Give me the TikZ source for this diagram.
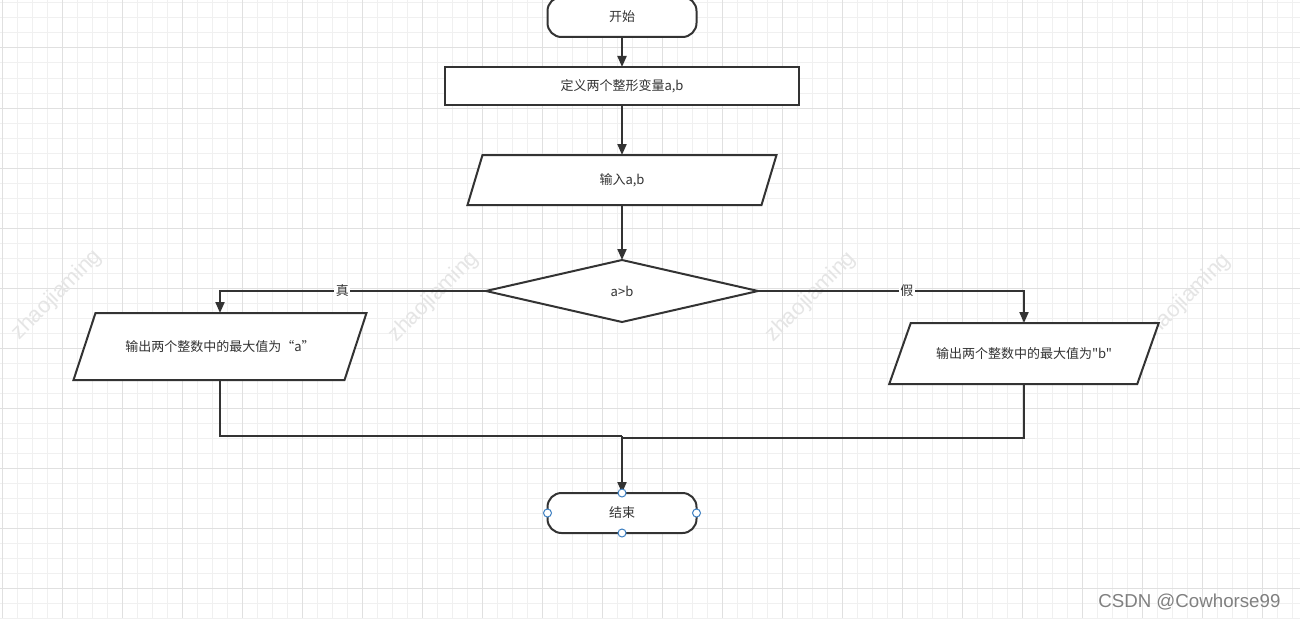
\documentclass[tikz,border=0pt]{standalone}
\usepackage{fontspec}
\setmainfont{Liberation Sans}
\newfontfamily\cjk{Noto Sans CJK SC}
\usetikzlibrary{shapes.geometric,arrows.meta}
\definecolor{ln}{HTML}{333333}
\definecolor{gmin}{HTML}{F0F0F0}
\definecolor{gmaj}{HTML}{E0E0E0}
\definecolor{handle}{HTML}{3D7FC1}
\pgfdeclarelayer{paper}
\pgfdeclarelayer{shapes}
\pgfsetlayers{paper,shapes,main}
\begin{document}
\begin{tikzpicture}[x=1pt,y=-1pt,
  every node/.style={font=\cjk\fontsize{13}{15}\selectfont, text=ln},
  base/.style={draw=ln, line width=2pt, fill=white, inner sep=0pt, outer sep=0pt},
  term/.style={base, rectangle, rounded corners=14pt, minimum width=149pt, minimum height=40pt},
  proc/.style={base, rectangle, minimum width=354pt, minimum height=38pt},
  iotext/.style={rectangle, inner sep=0pt, outer sep=0pt},
  iobox/.style={draw=ln, line width=2pt, fill=white, line join=miter},
  dec/.style={base, diamond, aspect=4.4, minimum width=272pt, minimum height=62pt},
  arr/.style={draw=ln, line width=2pt, -{Triangle[length=11pt,width=9pt]}},
  conn/.style={draw=ln, line width=2pt},
  lbl/.style={fill=white, inner sep=1.5pt},
  wm/.style={font=\fontsize{22}{22}\selectfont, text=black!10, rotate=45},
  hdl/.style={draw=handle, fill=white, line width=1pt}
]
\useasboundingbox (0,0) rectangle (1300,618);
\begin{pgfonlayer}{paper}
\fill[white] (0,0) rectangle (1300,618);
\foreach \x in {2,17,...,1300} \draw[gmin, line width=1pt] (\x,0) -- (\x,618);
\foreach \y in {3,18,...,618} \draw[gmin, line width=1pt] (0,\y) -- (1300,\y);
\foreach \x in {2,62,...,1300} \draw[gmaj, line width=1pt] (\x,0) -- (\x,618);
\foreach \y in {48,108,...,618} \draw[gmaj, line width=1pt] (0,\y) -- (1300,\y);
\node[wm] (wm1) at (57,295) {zhaojiaming};
\node[wm] (wm2) at (434,297) {zhaojiaming};
\node[wm] (wm3) at (811,297) {zhaojiaming};
\node[wm] (wm4) at (1186,299) {zhaojiaming};
\end{pgfonlayer}
% nodes
\node[term] (start) at (622,17) {开始};
\node[proc] (def) at (622,86) {定义两个整形变量a,b};
\node[iotext, minimum width=294pt, minimum height=50pt] (in) at (622,180) {输入a,b};
\node[dec] (cond) at (622,291) {a>b};
\node[iotext, minimum width=271pt, minimum height=67pt] (outA) at (220,346.5) {输出两个整数中的最大值为“a”};
\node[iotext, minimum width=248pt, minimum height=61pt] (outB) at (1024,353.5) {输出两个整数中的最大值为"b"};
\node[term] (end) at (622,513) {结束};
\begin{pgfonlayer}{shapes}
\draw[iobox] ([xshift=7.5pt]in.north west) -- ([xshift=7.5pt]in.north east) -- ([xshift=-7.5pt]in.south east) -- ([xshift=-7.5pt]in.south west) -- cycle;
\draw[iobox] ([xshift=11pt]outA.north west) -- ([xshift=11pt]outA.north east) -- ([xshift=-11pt]outA.south east) -- ([xshift=-11pt]outA.south west) -- cycle;
\draw[iobox] ([xshift=10.75pt]outB.north west) -- ([xshift=10.75pt]outB.north east) -- ([xshift=-10.75pt]outB.south east) -- ([xshift=-10.75pt]outB.south west) -- cycle;
\end{pgfonlayer}
\coordinate (joinA) at (622,436);
\coordinate (joinB) at (622,438);
% connectors
\draw[arr] (start) -- (def);
\draw[arr] (def) -- (in);
\draw[arr] (in) -- (cond);
\draw[arr] (cond.west) -| node[lbl, pos=0.27] (t) {真} (outA.north);
\draw[arr] (cond.east) -| node[lbl, pos=0.28] (f) {假} (outB.north);
\draw[conn] (outA.south) |- (joinA);
\draw[conn] (outB.south) |- (joinB);
\draw[arr] (joinA) -- (end.north);
% handles
\foreach \a in {north,south,east,west} \draw[hdl] (end.\a) circle (4pt);
% credit
\node[anchor=base east, font=\fontsize{18.7}{20}\selectfont, text=black!50] (csdn) at (1284,607) {CSDN @Cowhorse99};
\end{tikzpicture}
\end{document}
